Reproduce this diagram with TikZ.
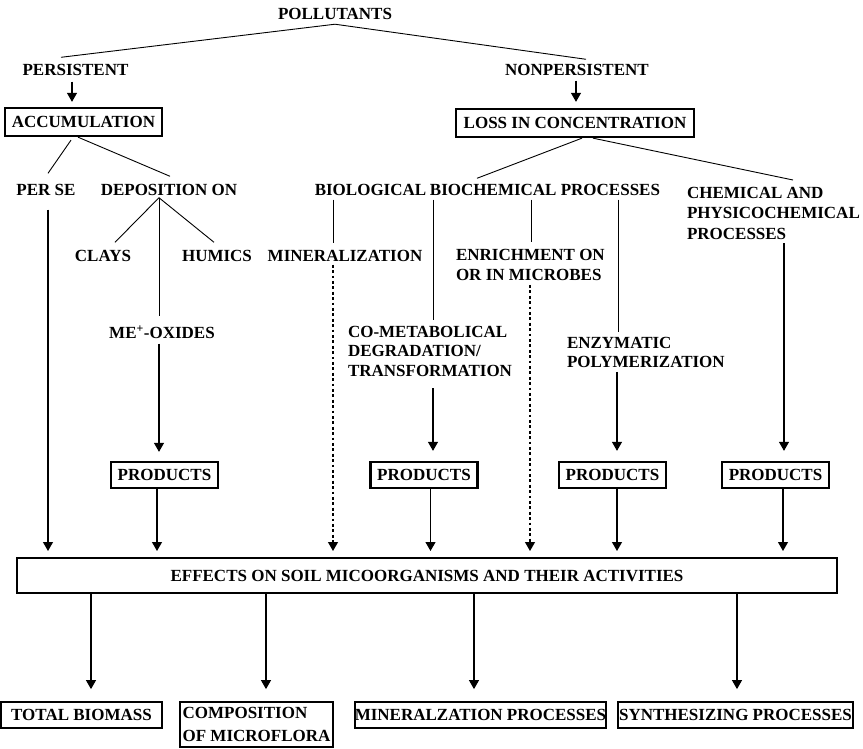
\documentclass[tikz,border=0pt]{standalone}
\usepackage{fontspec}
\setmainfont{Liberation Serif}
\usetikzlibrary{arrows.meta}
\begin{document}
\begin{tikzpicture}[x=1pt,y=-1pt,
  font=\fontsize{17}{20.5}\selectfont\bfseries,
  lbl/.style={inner sep=0pt, outer sep=0pt},
  multi/.style={lbl, align=left, anchor=north west},
  topbox/.style={draw, line width=2.3pt, inner sep=0pt, minimum height=28pt},
  prodbox/.style={draw, line width=2.3pt, inner sep=0pt, minimum width=107pt, minimum height=26pt},
  outbox/.style={draw, line width=1.8pt, inner sep=0pt, minimum height=26pt},
  conn/.style={line width=0.9pt},
  arr/.style={line width=1.1pt, -{Triangle[length=9pt,width=10pt]}},
  dotarr/.style={arr, dash pattern=on 2.8pt off 2.6pt}]
\useasboundingbox (0,0) rectangle (863,748);

% upper levels
\node[lbl] (pol) at (335,13.5) {POLLUTANTS};
\node[lbl] (pers) at (75.5,70) {PERSISTENT};
\node[lbl] (nonpers) at (577,70) {NONPERSISTENT};
\node[topbox, minimum width=157pt] (accum) at (83.5,122) {ACCUMULATION};
\node[topbox, minimum width=238pt] (loss) at (575,123) {LOSS IN CONCENTRATION};

% second level
\node[lbl] (perse) at (46,190) {PER SE};
\node[lbl] (depo) at (169,190) {DEPOSITION ON};
\node[lbl] (biol) at (370.5,190) {BIOLOGICAL};
\node[lbl] (bioch) at (545,190) {BIOCHEMICAL PROCESSES};
\node[multi] (chem) at (687,187) {CHEMICAL AND\\PHYSICOCHEMICAL\\PROCESSES};

% third level
\node[lbl] (clays) at (103,256) {CLAYS};
\node[lbl] (humics) at (217,256) {HUMICS};
\node[lbl] (miner) at (345,256) {MINERALIZATION};
\node[multi] (enrich) at (456,249) {ENRICHMENT ON\\OR IN MICROBES};
\node[lbl] (meox) at (162,332) {ME\textsuperscript{+}-OXIDES};
\node[multi, font=\fontsize{17}{19.5}\selectfont\bfseries] (comet) at (348,326) {CO-METABOLICAL\\DEGRADATION/\\TRANSFORMATION};
\node[multi, font=\fontsize{17}{19.5}\selectfont\bfseries] (enzym) at (567,337) {ENZYMATIC\\POLYMERIZATION};

% products
\node[prodbox] (prod1) at (164.5,475) {PRODUCTS};
\node[prodbox] (prod2) at (424,475) {PRODUCTS};
\node[prodbox] (prod3) at (612.5,475) {PRODUCTS};
\node[prodbox] (prod4) at (775.5,475) {PRODUCTS};

% effects
\node[draw, line width=2pt, minimum width=820pt, minimum height=35pt, inner sep=0pt] (eff) at (427,575.5)
  {EFFECTS ON SOIL MICOORGANISMS AND THEIR ACTIVITIES};

% outcomes
\node[outbox, minimum width=161pt] (total) at (81.5,715) {TOTAL BIOMASS};
\node[outbox, minimum width=153pt, minimum height=45pt, align=left, font=\fontsize{17}{23}\selectfont\bfseries] (compo) at (256.5,724.5) {COMPOSITION\\OF MICROFLORA};
\node[outbox, minimum width=245pt] (minp) at (480.5,715) {MINERALZATION PROCESSES};
\node[outbox, minimum width=235pt] (synth) at (735.5,715) {SYNTHESIZING PROCESSES};

% branches
\draw[conn] ([yshift=-5]pol.south) -- ([xshift=-14.5,yshift=7]pers.north);
\draw[conn] ([yshift=-5]pol.south) -- ([xshift=9,yshift=5]nonpers.north);
\draw[arr, shorten >=5pt] ([xshift=-3.5,yshift=-6]pers.south) -- ([xshift=-3.5]pers.south |- accum.north);
\draw[arr, shorten >=6pt] ([xshift=-1,yshift=-5]nonpers.south) -- ([xshift=-1]nonpers.south |- loss.north);

\draw[conn] ([xshift=-12.5,yshift=-3]accum.south) -- ([xshift=2,yshift=11]perse.north);
\draw[conn] ([xshift=-5.5]accum.south) -- ([xshift=1,yshift=8]depo.north);
\draw[conn] ([xshift=7]loss.south) -- ([xshift=-68,yshift=6]bioch.north);
\draw[conn] ([xshift=18]loss.south) -- ([xshift=106,yshift=7]chem.north west);

\draw[conn] ([xshift=-10,yshift=-2]depo.south) -- ([xshift=12,yshift=8]clays.north);
\draw[conn] ([xshift=-10,yshift=-2]depo.south) -- ([xshift=-3,yshift=8]humics.north);
\draw[conn] ([xshift=-10,yshift=-2]depo.south) -- ([xshift=-3,yshift=9]meox.north);

\draw[conn] ([xshift=-37.5,yshift=-4]biol.south) -- ([xshift=-12,yshift=7]miner.north);
\draw[conn] ([xshift=-112,yshift=-4]bioch.south) -- ([xshift=85,yshift=6]comet.north west);
\draw[conn] ([xshift=-14,yshift=-4]bioch.south) -- ([xshift=75,yshift=7]enrich.north west);
\draw[conn] ([xshift=73,yshift=-4]bioch.south) -- ([xshift=51,yshift=5]enzym.north west);

% arrows to products
\draw[arr, shorten >=9pt] ([xshift=-3,yshift=-5]meox.south) -- ([xshift=-3]meox.south |- prod1.north);
\draw[arr, shorten >=10pt] ([xshift=85,yshift=-12]comet.south west) -- ([xshift=85]comet.south west |- prod2.north);
\draw[arr, shorten >=10pt] ([xshift=50,yshift=-4]enzym.south west) -- ([xshift=50]enzym.south west |- prod3.north);
\draw[arr, shorten >=10pt] ([xshift=97,yshift=-4]chem.south west) -- ([xshift=97]chem.south west |- prod4.north);

% arrows to effects
\draw[arr, shorten >=6pt] ([xshift=2,yshift=-14]perse.south) -- ([xshift=2]perse.south |- eff.north);
\draw[arr, shorten >=6pt] ([xshift=-7.5]prod1.south) -- ([xshift=-7.5]prod1.south |- eff.north);
\draw[dotarr, shorten >=6pt] ([xshift=-12,yshift=-3]miner.south) -- ([xshift=-12]miner.south |- eff.north);
\draw[arr, shorten >=6pt] ([xshift=6.5]prod2.south) -- ([xshift=6.5]prod2.south |- eff.north);
\draw[dotarr, shorten >=6pt] ([xshift=74,yshift=-4]enrich.south west) -- ([xshift=74]enrich.south west |- eff.north);
\draw[arr, shorten >=6pt] ([xshift=4.5]prod3.south) -- ([xshift=4.5]prod3.south |- eff.north);
\draw[arr, shorten >=6pt] ([xshift=7.5]prod4.south) -- ([xshift=7.5]prod4.south |- eff.north);

% arrows to outcomes
\draw[arr, shorten >=12pt] ([xshift=9.5]total.north |- eff.south) -- ([xshift=9.5]total.north);
\draw[arr, shorten >=12pt] ([xshift=9.5]compo.north |- eff.south) -- ([xshift=9.5]compo.north);
\draw[arr, shorten >=12pt] ([xshift=-6.5]minp.north |- eff.south) -- ([xshift=-6.5]minp.north);
\draw[arr, shorten >=12pt] ([xshift=1.5]synth.north |- eff.south) -- ([xshift=1.5]synth.north);
\end{tikzpicture}
\end{document}
